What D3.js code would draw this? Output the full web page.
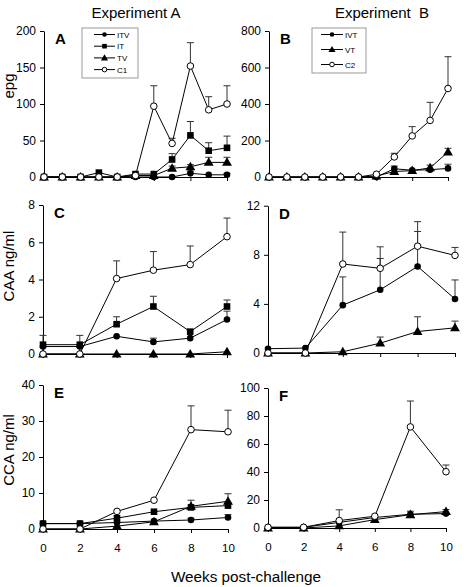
<!DOCTYPE html>
<html><head><meta charset="utf-8">
<script src="https://cdn.jsdelivr.net/npm/d3@7"></script>
<style>body{margin:0;background:#fff}svg{display:block}text{font-family:"Liberation Sans",Arial,sans-serif}</style>
</head><body>
<script>
// ---- data ----
const weeksAB = [0,1,2,3,4,5,6,7,8,9,10];
const weeksCDEF = [0,2,4,6,8,10];
const xTicks = [0,2,4,6,8,10];

// Panel A (epg, Experiment A)
const A_ITV = [0,0,0,0,0,0,0,0,5,3,3];
const A_IT  = [0,0,0,6,0,4,4,24,57,36,40];
const A_TV  = [0,0,0,0,0,2,2,12,14,20,20];
const A_C1  = [0,0,0,0,0,2,97,46,152,92,100];
const A_ITV_err = [0,0,0,0,0,0,0,0,3,0,2];
const A_IT_err  = [0,0,0,0,0,0,0,8,19,11,16];
const A_TV_err  = [0,0,0,0,0,0,0,3,3,7,7];
const A_C1_err  = [0,0,0,0,0,0,28,7,32,18,25];
const A_ticks = [0,50,100,150,200];

// Panel B (epg, Experiment B)
const B_IVT = [0,0,0,0,0,0,0,45,37,40,47];
const B_VT  = [0,0,0,0,0,0,5,30,35,50,137];
const B_C2  = [0,0,0,0,0,0,15,110,225,310,485];
const B_IVT_err = [0,0,0,0,0,0,0,15,0,0,23];
const B_VT_err  = [0,0,0,0,0,0,0,0,0,15,20];
const B_C2_err  = [0,0,0,0,0,0,0,20,51,99,174];
const B_ticks = [0,200,400,600,800];

// Panel C (CAA, Experiment A)
const C_ITV = [0.4,0.4,0.95,0.65,0.85,1.85];
const C_IT  = [0.5,0.5,1.6,2.55,1.2,2.55];
const C_TV  = [0,0,0,0,0,0.12];
const C_C1  = [0,0,4.05,4.5,4.8,6.3];
const C_ITV_err = [0,0,0,0.2,0,0.45];
const C_IT_err  = [0.5,0.5,0.4,0.55,0.1,0.35];
const C_TV_err  = [0,0,0,0,0,0];
const C_C1_err  = [0,0,0.95,1.0,1.0,1.0];
const C_ticks = [0,2,4,6,8];

// Panel D (CAA, Experiment B)
const D_IVT = [0.35,0.4,3.9,5.15,7.05,4.4];
const D_VT  = [0,0,0.1,0.8,1.75,2.05];
const D_C2  = [0,0,7.25,6.9,8.7,7.95];
const D_IVT_err = [0,0,2.3,2.55,2.85,1.55];
const D_VT_err  = [0,0,0,0.5,1.2,0.55];
const D_C2_err  = [0,0,2.6,1.75,2.0,0.65];
const D_ticks = [0,4,8,12];

// Panel E (CCA, Experiment A)
const E_ITV = [1.5,1.5,1.8,2.2,2.5,3.2];
const E_IT  = [1.5,1.5,3,4.8,6,6.5];
const E_TV  = [0,0,0.8,2,6.3,7.7];
const E_C1  = [0,0,4.9,8,27.6,27];
const E_ITV_err = [0,0,0,0,0.5,0.8];
const E_IT_err  = [0,0,0,0,0,0];
const E_TV_err  = [0,0,0,0,1.7,2.1];
const E_C1_err  = [0,0,0,0,6.6,6];
const E_ticks = [0,10,20,30,40];

// Panel F (CCA, Experiment B)
const F_IVT = [0.5,0.5,4,7.5,9.8,10.3];
const F_VT  = [0,0,1.5,6,9.5,11.7];
const F_C2  = [0.5,0.5,5.3,8.4,72.2,40.2];
const F_IVT_err = [0,0,0,0,0,0];
const F_VT_err  = [0,0,0,0,2.5,1.5];
const F_C2_err  = [0,0,7.7,0,18.5,4.8];
const F_ticks = [0,20,40,60,80,100];

// ---- layout ----
const W = 464, H = 587;
const svg = d3.select("body").append("svg").attr("width", W).attr("height", H);

const panels = [
  {letter:"A", x0:44, x1:227, yTop:31, yBot:177, ticks:A_ticks, weeks:weeksAB, xLabels:false,
   series:[{name:"ITV",v:A_ITV,e:A_ITV_err,m:"circle"},{name:"IT",v:A_IT,e:A_IT_err,m:"square"},{name:"TV",v:A_TV,e:A_TV_err,m:"triangle"},{name:"C1",v:A_C1,e:A_C1_err,m:"open"}],
   legend:{x:82,y:28,w:56,h:50,rowH:11.7,lineX0:94,lineX1:115,textX:117}},
  {letter:"B", x0:269, x1:448, yTop:31, yBot:177, ticks:B_ticks, weeks:weeksAB, xLabels:false,
   series:[{name:"IVT",v:B_IVT,e:B_IVT_err,m:"circle"},{name:"VT",v:B_VT,e:B_VT_err,m:"triangle"},{name:"C2",v:B_C2,e:B_C2_err,m:"open"}],
   legend:{x:312,y:28,w:54,h:45,rowH:15,lineX0:321,lineX1:343,textX:345}},
  {letter:"C", x0:43, x1:227, yTop:205, yBot:354, ticks:C_ticks, weeks:weeksCDEF, xLabels:false,
   series:[{name:"ITV",v:C_ITV,e:C_ITV_err,m:"circle"},{name:"IT",v:C_IT,e:C_IT_err,m:"square"},{name:"TV",v:C_TV,e:C_TV_err,m:"triangle"},{name:"C1",v:C_C1,e:C_C1_err,m:"open"}]},
  {letter:"D", x0:268, x1:455, yTop:205.7, yBot:353, ticks:D_ticks, weeks:weeksCDEF, xLabels:false,
   series:[{name:"IVT",v:D_IVT,e:D_IVT_err,m:"circle"},{name:"VT",v:D_VT,e:D_VT_err,m:"triangle"},{name:"C2",v:D_C2,e:D_C2_err,m:"open"}]},
  {letter:"E", x0:43, x1:228, yTop:385, yBot:529, ticks:E_ticks, weeks:weeksCDEF, xLabels:true,
   series:[{name:"ITV",v:E_ITV,e:E_ITV_err,m:"circle"},{name:"IT",v:E_IT,e:E_IT_err,m:"square"},{name:"TV",v:E_TV,e:E_TV_err,m:"triangle"},{name:"C1",v:E_C1,e:E_C1_err,m:"open"}]},
  {letter:"F", x0:268, x1:446, yTop:388, yBot:528, ticks:F_ticks, weeks:weeksCDEF, xLabels:true,
   series:[{name:"IVT",v:F_IVT,e:F_IVT_err,m:"circle"},{name:"VT",v:F_VT,e:F_VT_err,m:"triangle"},{name:"C2",v:F_C2,e:F_C2_err,m:"open"}]}
];

function drawMarker(g, m, cx, cy) {
  if (m === "circle") g.append("circle").attr("cx",cx).attr("cy",cy).attr("r",3.3).attr("fill","#000");
  else if (m === "open") g.append("circle").attr("cx",cx).attr("cy",cy).attr("r",3.3).attr("fill","#fff").attr("stroke","#000").attr("stroke-width",1);
  else if (m === "square") g.append("rect").attr("x",cx-3.3).attr("y",cy-3.3).attr("width",6.6).attr("height",6.6).attr("fill","#000");
  else if (m === "triangle") g.append("path").attr("d", d3.symbol().type(d3.symbolTriangle).size(42)()).attr("transform",`translate(${cx},${cy+0.6})`).attr("fill","#000");
}

panels.forEach(p => {
  const x = d3.scaleLinear().domain([0,10]).range([p.x0, p.x1]);
  const y = d3.scaleLinear().domain([0, p.ticks[p.ticks.length-1]]).range([p.yBot, p.yTop]);
  const g = svg.append("g");

  const yAxis = d3.axisLeft(y).tickValues(p.ticks).tickSize(4).tickSizeOuter(0).tickPadding(4);
  const ya = g.append("g").attr("transform",`translate(${p.x0},0)`).call(yAxis);
  ya.selectAll("text").attr("font-size",12).attr("font-family","Liberation Sans, Arial, sans-serif").attr("fill","#000");
  ya.selectAll("line,path").attr("stroke","#000");

  const xAxis = d3.axisBottom(x).tickValues(xTicks).tickSize(4).tickSizeOuter(0).tickPadding(11)
    .tickFormat(p.xLabels ? d3.format("d") : () => "");
  const xa = g.append("g").attr("transform",`translate(0,${p.yBot})`).call(xAxis);
  xa.selectAll("text").attr("font-size",11.5).attr("font-family","Liberation Sans, Arial, sans-serif").attr("fill","#000");
  xa.selectAll("line,path").attr("stroke","#000");

  // error bars
  p.series.forEach(s => {
    s.v.forEach((v,i) => {
      const e = s.e[i];
      if (e > 0) {
        const cx = x(p.weeks[i]);
        g.append("line").attr("x1",cx).attr("x2",cx).attr("y1",y(v)).attr("y2",y(v+e)).attr("stroke","#333").attr("stroke-width",1);
        g.append("line").attr("x1",cx-3.5).attr("x2",cx+3.5).attr("y1",y(v+e)).attr("y2",y(v+e)).attr("stroke","#333").attr("stroke-width",1);
      }
    });
  });
  // lines
  const line = d3.line().x((d,i)=>x(p.weeks[i])).y(d=>y(d));
  p.series.forEach(s => {
    g.append("path").attr("d", line(s.v)).attr("fill","none").attr("stroke","#000").attr("stroke-width",1);
  });
  // markers
  p.series.forEach(s => {
    s.v.forEach((v,i) => drawMarker(g, s.m, x(p.weeks[i]), y(v)));
  });

  // panel letter
  g.append("text").attr("x", p.x0 + 11).attr("y", p.yTop + 13).attr("font-size",15).attr("font-weight","bold").text(p.letter);

  // legend
  if (p.legend) {
    const L = p.legend;
    const lg = svg.append("g");
    lg.append("rect").attr("x",L.x).attr("y",L.y).attr("width",L.w).attr("height",L.h).attr("fill","#fff").attr("stroke","#999").attr("stroke-width",1);
    p.series.forEach((s,k) => {
      const cy = L.y + 6.5 + k*L.rowH;
      lg.append("line").attr("x1",L.lineX0).attr("x2",L.lineX1).attr("y1",cy).attr("y2",cy).attr("stroke","#000");
      const mg = lg.append("g");
      const mx = (L.lineX0+L.lineX1)/2;
      if (s.m === "circle") mg.append("circle").attr("cx",mx).attr("cy",cy).attr("r",2.3).attr("fill","#000");
      else if (s.m === "open") mg.append("circle").attr("cx",mx).attr("cy",cy).attr("r",2.3).attr("fill","#fff").attr("stroke","#000");
      else if (s.m === "square") mg.append("rect").attr("x",mx-2.3).attr("y",cy-2.3).attr("width",4.6).attr("height",4.6).attr("fill","#000");
      else mg.append("path").attr("d", d3.symbol().type(d3.symbolTriangle).size(22)()).attr("transform",`translate(${mx},${cy+0.5})`).attr("fill","#000");
      lg.append("text").attr("x",L.textX).attr("y",cy+3).attr("font-size",8).text(s.name);
    });
  }
});

// titles & axis labels
svg.append("text").attr("x",136).attr("y",18).attr("text-anchor","middle").attr("font-size",15).text("Experiment A");
svg.append("text").attr("x",382).attr("y",18).attr("text-anchor","middle").attr("font-size",15).attr("style","white-space:pre").text("Experiment  B");
const ylab = [["epg",86],["CAA ng/ml",266],["CCA ng/ml",450]];
ylab.forEach(([t,cy]) => {
  svg.append("text").attr("transform",`translate(14,${cy}) rotate(-90)`).attr("text-anchor","middle").attr("font-size",15).text(t);
});
svg.append("text").attr("x",246).attr("y",582).attr("text-anchor","middle").attr("font-size",15.3).text("Weeks post-challenge");
</script>
</body></html>
